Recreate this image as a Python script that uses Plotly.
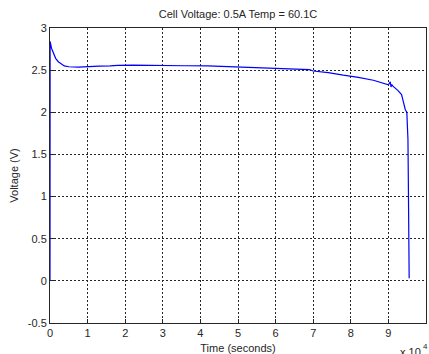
import plotly.graph_objects as go

# Data (time in seconds, voltage in V)
time_s = [0, 30, 400, 900, 1500, 2200, 3000, 3800, 5000, 6000, 7500, 9000, 11000,
          13000, 16000, 18000, 22000, 28000, 34000, 36000, 42000, 45000, 50000,
          56000, 62000, 66000, 69000, 70000, 74000, 78000, 82000, 86000, 88000,
          90000, 90500, 90700, 90900, 91200, 92500, 93500, 94000, 94500, 94900,
          95000, 95200, 95300, 95400, 95450, 95500, 95520]
voltage = [0.0, 2.84, 2.76, 2.70, 2.64, 2.60, 2.57, 2.55, 2.54, 2.537, 2.535, 2.538, 2.545,
           2.548, 2.55, 2.557, 2.56, 2.56, 2.56, 2.552, 2.55, 2.545, 2.54,
           2.535, 2.525, 2.515, 2.505, 2.49, 2.47, 2.44, 2.415, 2.38, 2.355,
           2.325, 2.36, 2.30, 2.33, 2.31, 2.26, 2.21, 2.12, 2.03, 2.0,
           1.9, 1.68, 1.2, 0.6, 0.3, 0.12, 0.03]

x_tickvals = [0, 10000, 20000, 30000, 40000, 50000, 60000, 70000, 80000, 90000, 100000]
x_ticktext = ["0", "1", "2", "3", "4", "5", "6", "7", "8", "9", "10"]
y_tickvals = [-0.5, 0, 0.5, 1, 1.5, 2, 2.5, 3]
y_ticktext = ["-0.5", "0", "0.5", "1", "1.5", "2", "2.5", "3"]

title_text = "Cell Voltage: 0.5A Temp = 60.1C"
x_title = "Time (seconds)"
y_title = "Voltage (V)"
exp_base = "x 10"
exp_power = "4"

font_family = "Liberation Sans, Arial, sans-serif"
ink = "#262626"

W, H = 429, 354
ML, MR, MT, MB = 50, 3, 28, 31
plot_h = H - MT - MB
plot_w = W - ML - MR

fig = go.Figure()
fig.add_trace(go.Scatter(x=time_s, y=voltage, mode="lines",
                         line=dict(color="#0000FF", width=1.2), showlegend=False))

axis_common = dict(
    showline=True, linecolor=ink, linewidth=1, mirror=True,
    showgrid=True, gridcolor=ink, gridwidth=1, griddash="2px,2px",
    zeroline=False, ticks="inside", ticklen=4, tickcolor=ink,
    tickfont=dict(family=font_family, size=11, color=ink),
    automargin=False,
)

fig.update_layout(
    width=W, height=H, autosize=False,
    margin=dict(l=ML, r=MR, t=MT, b=MB),
    paper_bgcolor="white", plot_bgcolor="white",
    font=dict(family=font_family, size=11, color=ink),
    title=dict(text=title_text, x=238 / W, xanchor="center", y=1 - 14 / H,
               yanchor="middle", font=dict(family=font_family, size=11, color=ink)),
    xaxis=dict(range=[0, 100000], tickvals=x_tickvals, ticktext=x_ticktext,
               title=dict(text=x_title, standoff=8,
                          font=dict(family=font_family, size=11, color=ink)),
               **axis_common),
    yaxis=dict(range=[-0.5, 3], tickvals=y_tickvals, ticktext=y_ticktext,
               title=dict(text=y_title, standoff=6,
                          font=dict(family=font_family, size=11, color=ink)),
               **axis_common),
)

fig.add_annotation(text=exp_base, xref="paper", yref="paper",
                   x=(398 - ML) / plot_w, y=-21 / plot_h, xanchor="left", yanchor="top",
                   showarrow=False,
                   font=dict(family=font_family, size=11, color=ink))
fig.add_annotation(text=exp_power, xref="paper", yref="paper",
                   x=(421 - ML) / plot_w, y=-17 / plot_h, xanchor="left", yanchor="top",
                   showarrow=False,
                   font=dict(family=font_family, size=8, color=ink))

page_css = ("document.documentElement.style.overflow='hidden';"
            "document.body.style.overflow='hidden';"
            "document.body.style.margin='0';")

fig.write_html("out.html", config={"responsive": False, "displayModeBar": False},
               post_script=page_css)
